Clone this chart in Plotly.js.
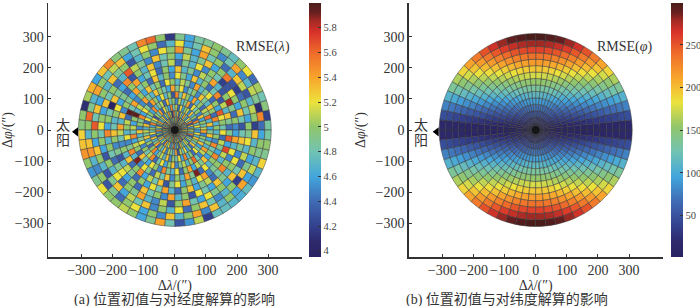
<!DOCTYPE html>
<html><head><meta charset="utf-8">
<script src="https://cdn.plot.ly/plotly-3.0.1.min.js"></script>
<style>html,body{margin:0;padding:0;background:#fff}#c{width:700px;height:306px}</style>
</head><body><div id="c"></div>
<script>
// ring outer limit and sector step of the polar mesh
const maxRadius = 310;
const ringCount = 15;
const sectorStep = 6;
const tickValues = [-300,-200,-100,0,100,200,300];
const lambdaTicks = [4,4.2,4.4,4.6,4.8,5,5.2,5.4,5.6,5.8];
const phiTicks = [50,100,150,200,250];

// RMSE(lambda): one row per ring (inner to outer), 60 sectors counter-clockwise from +x
const rmseLambda = [
[5.2,4.3,5.5,4.8,5.3,4.2,5.0,5.6,4.5,5.2, 4.6,5.4,4.9,5.7,4.3,5.1,4.6,5.5,4.8,5.3, 4.2,5.1,4.7,5.6,4.4,5.0,5.3,4.6,5.5,4.9, 5.3,4.4,5.1,5.6,4.7,5.0,4.3,5.4,4.8,5.2, 4.5,5.5,4.9,4.3,5.3,4.7,5.6,5.0,4.4,5.2, 4.8,5.4,4.6,5.1,4.3,5.5,4.9,5.2,4.5,5.0],
[4.8,5.4,4.5,5.1,4.7,5.5,4.3,5.0,5.3,4.6, 5.2,4.4,5.6,4.9,5.2,4.5,5.3,4.7,5.0,4.4, 5.4,4.8,5.2,4.3,5.5,4.9,4.6,5.3,4.2,5.1, 4.7,5.4,4.8,4.5,5.2,4.4,5.5,4.9,5.1,4.6, 5.3,4.8,5.0,5.5,4.4,5.2,4.7,5.3,4.9,4.5, 5.4,4.3,5.1,4.8,5.5,4.6,5.2,4.4,5.0,5.3],
[5.0,4.6,5.3,4.3,5.5,4.8,5.2,4.5,4.9,5.4, 4.7,5.1,4.4,5.3,4.8,5.5,4.2,5.0,5.4,4.7, 5.1,4.5,5.3,4.9,4.6,5.4,5.0,4.4,5.2,4.8, 5.5,4.6,5.0,4.3,4.9,5.3,4.7,5.1,4.4,5.4, 4.9,5.2,4.5,4.8,5.6,4.6,5.0,4.4,5.3,4.9, 4.7,5.2,5.0,4.5,5.1,4.8,4.3,5.5,4.7,5.1],
[4.7,5.2,4.8,5.5,4.4,5.0,4.7,5.3,4.5,5.1, 5.0,4.6,5.2,4.4,5.1,4.8,5.5,4.6,4.9,5.2, 4.4,5.4,4.8,5.0,4.3,5.2,4.9,5.5,4.6,5.0, 4.8,5.2,4.5,5.3,4.7,4.9,5.4,4.4,5.0,4.7, 5.3,4.5,5.1,4.9,4.7,5.4,4.3,5.1,4.8,5.2, 4.6,5.0,4.4,5.3,4.8,5.0,5.3,4.7,5.2,4.6],
[5.1,4.8,5.0,4.6,5.3,4.5,5.0,4.8,5.2,4.4, 5.4,4.9,4.7,5.1,4.5,5.0,4.8,5.3,4.4,5.1, 4.9,4.7,5.5,4.6,5.0,4.8,5.2,4.4,5.3,4.7, 5.1,4.9,5.3,4.7,5.0,4.4,5.0,5.5,4.6,4.9, 5.1,4.7,5.3,4.5,5.0,4.8,5.2,4.6,5.5,4.7, 5.0,4.4,5.2,4.9,4.6,5.3,4.8,5.0,4.5,5.4],
[4.6,5.3,4.7,5.6,4.9,5.1,4.4,5.0,4.7,5.4, 4.6,5.0,5.3,4.8,5.5,4.3,5.0,4.7,5.2,4.6, 5.0,5.4,4.4,4.9,5.2,4.6,5.5,4.9,5.0,4.5, 5.3,4.7,4.9,5.2,4.5,5.0,4.8,5.1,5.5,4.4, 4.8,5.2,4.6,5.0,5.3,4.5,4.9,5.1,4.7,5.0, 5.6,4.8,4.5,5.1,5.4,4.7,5.0,4.6,5.3,4.9],
[5.0,4.7,5.5,4.4,5.0,5.3,4.7,4.9,5.3,4.5, 5.0,4.8,4.5,5.2,4.9,5.4,4.6,4.8,5.0,5.3, 4.7,4.9,5.4,4.5,5.1,4.7,5.95,5.0,4.6,5.1, 4.8,5.5,4.6,5.1,5.0,4.4,5.3,4.8,4.6,5.2, 5.0,4.5,5.5,4.9,4.7,5.2,4.4,5.0,5.4,4.6, 5.1,4.9,5.3,4.6,5.0,4.8,5.5,4.5,5.0,4.7],
[4.8,5.0,5.2,5.65,4.6,5.0,4.4,5.2,4.9,4.7, 5.4,4.5,4.9,5.1,4.7,5.0,5.2,4.4,5.0,4.8, 5.3,4.6,5.0,4.5,5.4,4.8,5.95,4.4,5.1,5.0, 4.7,5.2,4.5,4.9,5.5,4.7,5.9,4.5,5.2,4.9, 4.4,5.1,4.8,5.3,4.5,5.0,4.7,5.4,4.9,5.9, 4.4,5.2,4.7,5.0,5.5,4.6,4.9,5.1,4.4,5.2],
[4.4,4.9,5.3,4.7,5.1,4.3,5.5,4.8,4.4,5.0, 4.7,5.3,4.6,4.9,5.2,4.5,5.0,4.7,5.3,4.4, 5.0,4.8,5.4,4.6,4.9,5.0,4.5,5.3,4.7,5.4, 5.1,4.8,4.5,5.0,4.7,5.3,4.4,5.0,5.5,4.6, 5.1,4.8,5.3,4.3,4.9,5.2,4.6,5.0,4.7,5.2, 5.4,4.5,4.9,5.0,4.7,5.1,5.7,4.6,5.65,4.9],
[4.5,5.0,4.4,4.9,5.85,5.0,4.3,4.7,5.4,4.9, 5.1,4.5,4.9,4.7,5.3,4.6,5.0,4.4,5.2,4.8, 4.6,5.4,5.0,4.4,4.9,4.6,5.2,5.0,4.7,4.8, 5.3,5.0,4.5,4.9,4.3,4.7,5.1,4.9,4.4,5.0, 4.6,5.2,4.8,5.4,4.7,4.4,5.0,5.3,4.6,4.9, 5.1,4.4,4.8,5.5,5.0,4.5,5.2,4.7,5.4,4.6],
[4.3,4.8,5.3,4.6,5.0,5.2,4.3,4.2,4.8,5.0, 4.5,5.2,4.7,4.9,4.4,5.1,4.8,4.5,5.3,4.7, 5.0,4.3,5.5,4.6,4.9,5.3,4.0,4.8,5.0,4.6, 5.5,4.7,5.0,4.8,4.4,4.9,5.2,4.6,5.0,4.4, 5.3,4.8,5.0,4.5,5.4,4.7,5.0,4.3,5.2,4.8, 4.6,5.3,4.9,4.7,5.0,5.2,4.5,4.9,5.3,4.8],
[5.0,4.6,4.8,5.0,4.4,4.2,4.3,5.55,5.0,4.6, 5.3,4.9,4.7,5.1,4.6,5.0,4.8,5.3,4.5,4.9, 5.1,5.65,4.7,4.4,5.0,4.8,5.3,4.6,5.0,5.2, 4.8,5.0,4.6,4.3,5.0,4.7,5.2,4.4,5.0,4.9, 5.4,4.7,4.5,5.1,4.3,5.0,5.4,4.8,4.6,5.2, 4.9,5.0,4.6,5.3,4.8,4.4,5.1,4.7,5.2,4.9],
[4.2,5.0,5.1,4.7,4.3,5.1,5.3,4.7,4.4,5.0, 4.8,5.4,4.6,4.9,5.45,5.0,5.2,4.5,5.0,4.7, 4.3,5.0,4.9,5.3,4.7,5.0,4.6,5.3,4.8,5.65, 5.0,4.6,5.3,5.0,4.7,4.3,4.9,5.3,4.6,5.1, 4.8,5.3,4.5,5.0,4.7,5.2,4.4,5.0,5.3,4.8, 4.5,4.7,5.0,4.2,5.3,4.9,4.6,5.0,4.7,5.3],
[4.4,5.5,4.1,4.9,5.1,4.7,4.5,5.4,4.8,4.5, 5.0,5.3,4.8,4.6,5.2,4.7,4.4,5.0,5.2,4.8, 4.6,5.3,5.1,4.8,5.0,5.4,4.7,4.9,5.6,5.0, 4.7,5.3,5.45,4.7,4.5,5.0,4.3,4.9,4.4,5.0, 5.2,4.6,5.0,4.5,5.3,4.7,5.0,5.4,4.5,5.3, 4.7,5.0,4.6,5.4,4.6,5.1,4.7,4.9,5.0,4.6],
[4.85,4.2,4.95,4.8,5.05,4.4,5.2,5.0,4.75,4.9, 5.0,4.9,4.85,4.6,4.9,4.15,5.0,5.6,5.5,4.8, 4.9,4.95,5.5,5.3,4.6,5.35,5.05,4.1,5.0,4.95, 5.25,5.3,5.45,5.0,4.55,4.9,5.2,5.0,5.0,5.1, 5.0,4.6,4.9,5.4,4.8,4.3,4.55,5.1,4.2,4.75, 4.75,4.7,4.65,4.75,4.55,4.7,5.25,4.9,5.0,4.85]
];

// RMSE(phi): one row per ring (inner to outer), 15 sectors from 0 to 90 degrees;
// the picture is symmetric, so the other three quadrants reuse this table mirrored
const rmsePhiQuadrant = [
[3,3,3,4,5,6,6,7,8,9,9,10,10,10,10],
[3,5,8,11,14,17,19,22,24,26,28,29,30,31,31],
[3,8,13,19,23,28,33,37,40,43,46,48,50,51,52],
[4,11,19,26,33,39,45,51,56,61,64,68,70,71,72],
[5,15,24,33,42,51,59,66,72,78,83,87,90,92,93],
[6,18,29,41,52,62,72,80,88,95,101,106,110,112,114],
[7,21,35,48,61,73,84,95,104,113,120,125,130,133,134],
[8,24,40,55,70,84,97,110,120,130,138,145,150,153,155],
[9,27,46,63,80,96,111,124,137,147,157,164,170,174,176],
[10,31,51,70,89,107,123,139,153,165,175,183,190,194,196],
[11,34,56,78,99,118,136,153,169,182,193,203,210,214,217],
[12,37,62,85,108,130,150,168,185,199,212,222,230,235,237],
[13,40,67,92,117,141,162,183,201,217,230,241,250,255,258],
[15,44,72,100,127,152,175,197,217,234,249,261,270,276,279],
[16,47,78,107,136,163,189,212,233,251,267,280,290,296,299]
];

const paletteStops = [
[0,'#2a2260'],[0.06,'#2d2a6c'],[0.12,'#33408c'],[0.18,'#3b5aa6'],[0.22,'#3f6cb4'],[0.317,'#43a6dc'],
[0.415,'#72c3b2'],[0.512,'#90c66c'],[0.61,'#ece23c'],[0.707,'#f8a42c'],[0.805,'#ee6a2a'],
[0.885,'#d8322a'],[0.93,'#a52a24'],[0.96,'#6b2020'],[1,'#4a1c1a']];

const FONT = '"Liberation Serif","Noto Sans CJK SC",serif';
const INK = '#333333';
const W = 700, H = 306;

function meshArrays(rowValue){
  const dr = maxRadius/ringCount, n = 360/sectorStep;
  const r=[],base=[],theta=[],width=[],color=[];
  for(let i=0;i<ringCount;i++) for(let j=0;j<n;j++){
    r.push(dr); base.push(i*dr); theta.push((j+0.5)*sectorStep); width.push(sectorStep);
    color.push(rowValue(i,j));
  }
  return {r,base,theta,width,color};
}
function phiValue(i,j){
  const row = rmsePhiQuadrant[i], q = Math.floor(j/15), k = j%15;
  return row[(q%2===0)?k:14-k];
}
function cell(sub,m,cmin,cmax,barX,ticks){
  return {type:'barpolar',subplot:sub,r:m.r,base:m.base,theta:m.theta,width:m.width,
    hoverinfo:'skip',
    marker:{color:m.color,cmin:cmin,cmax:cmax,colorscale:paletteStops,
      line:{color:'#3a3a3a',width:0.5},
      colorbar:{x:barX/W,xanchor:'left',y:49/H,yanchor:'bottom',len:254/H,lenmode:'fraction',
        thickness:11.5,thicknessmode:'pixels',xpad:0,ypad:0,outlinewidth:0,
        tickmode:'array',tickvals:ticks,ticks:'inside',ticklen:3,tickcolor:'#333',tickwidth:1,
        tickfont:{family:FONT,size:10.5,color:'#444'}}}};
}
function hub(sub){
  return {type:'scatterpolar',subplot:sub,r:[0],theta:[0],mode:'markers',hoverinfo:'skip',showlegend:false,
    marker:{symbol:'circle',size:8,color:'#111',opacity:0.85,line:{width:0}}};
}
function sunMark(xa,ya,x){
  return {type:'scatter',xaxis:xa,yaxis:ya,x:[x],y:[-6],mode:'markers',hoverinfo:'skip',showlegend:false,
    marker:{symbol:'triangle-left',size:8,color:'#000'}};
}
function axis(dom,anchor,titleHtml,stand){
  return {domain:dom,anchor:anchor,range:[-408,408],tickmode:'array',tickvals:tickValues,tickangle:0,
    showgrid:false,zeroline:false,showline:true,linecolor:'#333',linewidth:1.5,
    ticks:'inside',ticklen:3,tickcolor:'#333',tickwidth:1,
    tickfont:{family:FONT,size:14,color:INK},automargin:false,
    title:{text:titleHtml,font:{family:FONT,size:14,color:INK},standoff:stand}};
}
function polar(dom,dy){
  return {domain:{x:dom,y:dy},bgcolor:'rgba(0,0,0,0)',bargap:0,barmode:'overlay',
    radialaxis:{range:[0,408],visible:false,showgrid:false},
    angularaxis:{visible:false,showgrid:false}};
}
const domA=[48/W,301.7/W], domB=[408.7/W,662.7/W], domY=[(H-257)/H,(H-3)/H];
const xT='Δ<i>λ</i>/(″)', yT='Δ<i>φ</i>/(″)';
function note(text,xref,yref,x,y,size){
  return {text:text,xref:xref,yref:yref,x:x,y:y,showarrow:false,xanchor:'center',yanchor:'middle',
    font:{family:FONT,size:size,color:INK}};
}
const data=[
  sunMark('x','y',-318),sunMark('x2','y2',-318),
  cell('polar',meshArrays((i,j)=>rmseLambda[i][j]),3.95,6.0,309,lambdaTicks),
  cell('polar2',meshArrays(phiValue),1.6,299,670.7,phiTicks),
  hub('polar'),hub('polar2')
];
const layout={width:W,height:H,margin:{l:0,r:0,t:0,b:0,autoexpand:false},paper_bgcolor:'#fff',plot_bgcolor:'rgba(0,0,0,0)',showlegend:false,
  xaxis:axis(domA,'y',xT,2),yaxis:axis(domY,'x',yT,6),
  xaxis2:axis(domB,'y2',xT,2),yaxis2:axis(domY,'x2',yT,6),
  polar:polar(domA,domY),polar2:polar(domB,domY),
  annotations:[
    note('RMSE(<i>λ</i>)','x','y',285,268,14),
    note('太','x','y',-361,13,14),note('阳','x','y',-361,-35,14),
    note('RMSE(<i>φ</i>)','x2','y2',288,268,14),
    note('太','x2','y2',-369,13,14),note('阳','x2','y2',-369,-35,14),
    note('(a) 位置初值与对经度解算的影响','paper','paper',174/W,(H-299)/H,14),
    note('(b) 位置初值与对纬度解算的影响','paper','paper',506.7/W,(H-299)/H,14)
  ]};
Plotly.newPlot('c',data,layout,{displayModeBar:false,staticPlot:true});
</script></body></html>
